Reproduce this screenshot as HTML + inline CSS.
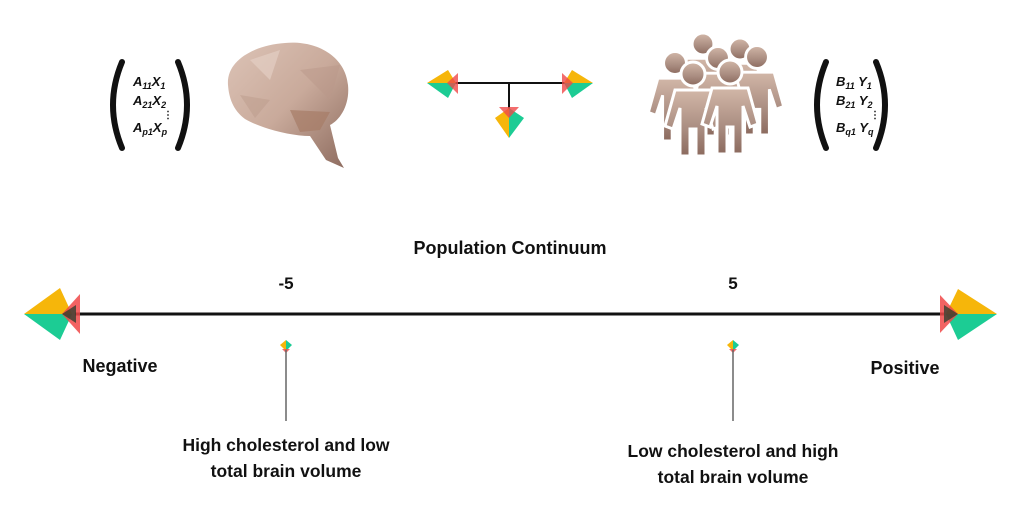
<!DOCTYPE html>
<html><head><meta charset="utf-8"><style>
html,body{margin:0;padding:0;background:#fff;width:1020px;height:510px;overflow:hidden}
svg{display:block}
text{font-family:"Liberation Sans",sans-serif;fill:#111}
</style></head><body>
<svg width="1020" height="510" viewBox="0 0 1020 510" xmlns="http://www.w3.org/2000/svg">
<defs>
<linearGradient id="br" x1="0" y1="0" x2="1" y2="1">
<stop offset="0" stop-color="#dcc3b6"/><stop offset="0.5" stop-color="#c9aa9b"/><stop offset="1" stop-color="#8d6b5e"/>
</linearGradient>
<linearGradient id="pp" x1="0" y1="0" x2="0" y2="1">
<stop offset="0" stop-color="#d2b7a8"/><stop offset="0.6" stop-color="#a98c80"/><stop offset="1" stop-color="#8b6a5e"/>
</linearGradient>
<g id="person">
<circle cx="0" cy="0" r="12"/>
<path d="M-18,16 H18 L28,52 L20,55 L13,34 V82 H3 V55 H-3 V82 H-13 V34 L-20,55 L-28,52 Z"/>
</g>
<g id="mk">
<polygon points="0,0 -6,5 0,11" fill="#f6b60a"/>
<polygon points="0,0 6,5 0,11" fill="#1ccc94"/>
<polygon points="-4,9 4,9 0,13" fill="#f04848" opacity="0.8"/>
</g>
</defs>

<g fill="none" stroke="#111" stroke-width="6" stroke-linecap="round">
<path d="M122,62 Q104,105 122,148"/>
<path d="M178,62 Q196,105 178,148"/>
<path d="M826,62 Q808,105 826,148"/>
<path d="M876,62 Q894,105 876,148"/>
</g>
<text x="133" y="86" font-size="13" font-weight="bold" font-style="italic">A<tspan font-size="9" dy="3">11</tspan><tspan dy="-3">X</tspan><tspan font-size="9" dy="3">1</tspan></text>
<text x="133" y="105" font-size="13" font-weight="bold" font-style="italic">A<tspan font-size="9" dy="3">21</tspan><tspan dy="-3">X</tspan><tspan font-size="9" dy="3">2</tspan></text>
<text x="163" y="118" font-size="10" font-weight="bold">⋮</text>
<text x="133" y="132" font-size="13" font-weight="bold" font-style="italic">A<tspan font-size="9" dy="3">p1</tspan><tspan dy="-3">X</tspan><tspan font-size="9" dy="3">p</tspan></text>

<text x="836" y="86" font-size="13" font-weight="bold" font-style="italic">B<tspan font-size="9" dy="3">11</tspan><tspan dy="-3"> Y</tspan><tspan font-size="9" dy="3">1</tspan></text>
<text x="836" y="105" font-size="13" font-weight="bold" font-style="italic">B<tspan font-size="9" dy="3">21</tspan><tspan dy="-3"> Y</tspan><tspan font-size="9" dy="3">2</tspan></text>
<text x="870" y="118" font-size="10" font-weight="bold">⋮</text>
<text x="836" y="132" font-size="13" font-weight="bold" font-style="italic">B<tspan font-size="9" dy="3">q1</tspan><tspan dy="-3"> Y</tspan><tspan font-size="9" dy="3">q</tspan></text>

<path d="M228,85 C226,60 255,45 285,43 C315,40 345,55 348,85 C350,105 340,120 330,125 L338,158 L344,168 L326,160 L310,136 C290,136 260,128 245,119 C233,110 229,98 228,85 Z" fill="url(#br)"/>
<polygon points="290,110 330,112 320,130 300,132" fill="#a77c66" opacity="0.7"/>
<polygon points="250,60 280,50 270,80" fill="#e6d2c8" opacity="0.6"/>
<polygon points="300,70 340,65 330,100" fill="#b99789" opacity="0.5"/>
<polygon points="240,95 270,100 255,118" fill="#bb9b8c" opacity="0.5"/>

<line x1="450" y1="83" x2="568" y2="83" stroke="#111" stroke-width="2"/>
<line x1="509" y1="83" x2="509" y2="112" stroke="#111" stroke-width="2"/>
<polygon points="427,83 448,70 456,83" fill="#f6b60a"/>
<polygon points="427,83 448,98 456,83" fill="#1ccc94"/>
<polygon points="458,73 458,94 447,83" fill="#f04848" opacity="0.8"/>
<polygon points="593,83 572,70 564,83" fill="#f6b60a"/>
<polygon points="593,83 572,98 564,83" fill="#1ccc94"/>
<polygon points="562,73 562,94 573,83" fill="#f04848" opacity="0.8"/>
<polygon points="509,138 495,118 509,108" fill="#f6b60a"/>
<polygon points="509,138 524,118 509,108" fill="#1ccc94"/>
<polygon points="499,107 519,107 509,118" fill="#f04848" opacity="0.8"/>

<g fill="url(#pp)" stroke="#fff" stroke-width="3">
<use href="#person" transform="translate(703,44) scale(0.9)"/>
<use href="#person" transform="translate(740,49) scale(0.9)"/>
<use href="#person" transform="translate(675,63) scale(0.95)"/>
<use href="#person" transform="translate(757,57) scale(0.95)"/>
<use href="#person" transform="translate(718,58) scale(0.95)"/>
<use href="#person" transform="translate(693,74)"/>
<use href="#person" transform="translate(730,72)"/>
</g>

<text x="510" y="254" font-size="18" font-weight="bold" text-anchor="middle">Population Continuum</text>
<text x="286" y="289" font-size="17" font-weight="bold" text-anchor="middle">-5</text>
<text x="733" y="289" font-size="17" font-weight="bold" text-anchor="middle">5</text>
<line x1="75" y1="314" x2="944" y2="314" stroke="#111" stroke-width="3"/>
<polygon points="24,314 60,288 72,314" fill="#f6b60a"/>
<polygon points="24,314 60,340 72,314" fill="#1ccc94"/>
<polygon points="80,294 80,334 62,314" fill="#f04848" opacity="0.85"/>
<polygon points="62,314 76,305 76,323" fill="#1a3a2a" opacity="0.7"/>
<polygon points="997,314 958,289 946,314" fill="#f6b60a"/>
<polygon points="997,314 958,340 946,314" fill="#1ccc94"/>
<polygon points="940,295 940,333 958,314" fill="#f04848" opacity="0.85"/>
<polygon points="958,314 944,305 944,323" fill="#1a3a2a" opacity="0.7"/>

<text x="120" y="372" font-size="18" font-weight="bold" text-anchor="middle">Negative</text>
<text x="905" y="374" font-size="18" font-weight="bold" text-anchor="middle">Positive</text>

<use href="#mk" transform="translate(286,340)"/>
<line x1="286" y1="350" x2="286" y2="421" stroke="#666" stroke-width="1.5"/>
<use href="#mk" transform="translate(733,340)"/>
<line x1="733" y1="350" x2="733" y2="421" stroke="#666" stroke-width="1.5"/>

<text x="286" y="451" font-size="17.5" font-weight="bold" text-anchor="middle">High cholesterol and low</text>
<text x="286" y="477" font-size="17.5" font-weight="bold" text-anchor="middle">total brain volume</text>
<text x="733" y="457" font-size="17.5" font-weight="bold" text-anchor="middle">Low cholesterol and high</text>
<text x="733" y="483" font-size="17.5" font-weight="bold" text-anchor="middle">total brain volume</text>
</svg>
</body></html>
